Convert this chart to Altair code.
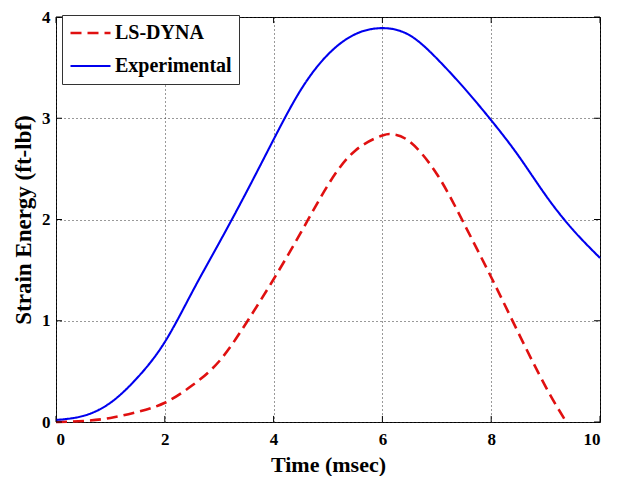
import altair as alt
import pandas as pd

# Experimental (blue, solid)
t_exp = [0, 0.5, 1, 1.5, 2, 2.5, 3, 3.5, 4, 4.5, 5, 5.5, 6, 6.5, 7, 7.5, 8, 8.5, 9, 9.5, 10]
e_exp = [0.02, 0.06, 0.19, 0.44, 0.79, 1.28, 1.77, 2.27, 2.79, 3.28, 3.63, 3.83, 3.89, 3.82, 3.59, 3.30, 2.98, 2.63, 2.24, 1.90, 1.62]

# LS-DYNA (red, dashed)
t_ls = [0, 0.5, 1, 1.5, 2, 2.5, 3, 3.5, 4, 4.5, 5, 5.5, 6, 6.2, 6.5, 7, 7.5, 8, 8.5, 9, 9.38]
e_ls = [0.0, 0.01, 0.04, 0.10, 0.19, 0.36, 0.60, 0.98, 1.41, 1.87, 2.34, 2.68, 2.83, 2.84, 2.77, 2.45, 1.96, 1.43, 0.88, 0.35, 0.0]

series = ["LS-DYNA", "Experimental"]
colors = ["#e01010", "#0000ee"]
x_ticks = [0, 2, 4, 6, 8, 10]
y_ticks = [0, 1, 2, 3, 4]

df = pd.concat([
    pd.DataFrame({"t": t_ls, "e": e_ls, "s": "LS-DYNA", "o": range(len(t_ls))}),
    pd.DataFrame({"t": t_exp, "e": e_exp, "s": "Experimental", "o": range(len(t_exp))}),
])

XMAX, YMAX = 10, 4
xlen, ylen = 0.11, 0.06
rows = []
for v in x_ticks:
    rows.append({"x": v, "x2": v, "y": 0, "y2": ylen})
    rows.append({"x": v, "x2": v, "y": YMAX, "y2": YMAX - ylen})
for v in y_ticks:
    rows.append({"x": 0, "x2": xlen, "y": v, "y2": v})
    rows.append({"x": XMAX, "x2": XMAX - xlen, "y": v, "y2": v})
ticks = pd.DataFrame(rows)

xs = alt.Scale(domain=[0, 10], nice=False)
ys = alt.Scale(domain=[0, 4], nice=False)

lines = alt.Chart(df).mark_line(interpolate="natural").encode(
    x=alt.X("t:Q", scale=xs, title="Time (msec)",
            axis=alt.Axis(values=x_ticks, format="d", grid=True, ticks=False, domain=False,
                          labelPadding=9, titlePadding=7, titleFontSize=22)),
    y=alt.Y("e:Q", scale=ys, title="Strain Energy (ft-lbf)",
            axis=alt.Axis(values=y_ticks, format="d", grid=True, ticks=False, domain=False,
                          labelPadding=6, titlePadding=6, titleFontSize=23)),
    color=alt.Color("s:N", scale=alt.Scale(domain=series, range=colors),
                    legend=alt.Legend(title=None, orient="none", legendX=6, legendY=-2,
                                      symbolType="stroke", symbolSize=1600, clipHeight=22,
                                      symbolStrokeWidth=2.2, labelFontSize=20,
                                      labelFont="Liberation Serif", labelFontWeight="bold",
                                      labelColor="black", labelOffset=3,
                                      strokeColor="#333", fillColor="white",
                                      padding=7, rowPadding=11)),
    strokeDash=alt.StrokeDash("s:N", scale=alt.Scale(domain=series, range=[[11, 6], [1, 0]]),
                              legend=alt.Legend(title=None, orient="none", legendX=6, legendY=-2)),
    strokeWidth=alt.StrokeWidth("s:N", scale=alt.Scale(domain=series, range=[2.6, 2.1]), legend=None),
    order="o:Q",
)

tick_layer = alt.Chart(ticks).mark_rule(color="black", strokeWidth=1).encode(
    x=alt.X("x:Q", scale=xs), x2="x2:Q",
    y=alt.Y("y:Q", scale=ys), y2="y2:Q",
)

chart = alt.layer(lines, tick_layer).properties(
    width=544, height=405,
    padding={"left": 48, "top": 9, "right": 10, "bottom": 54},
    autosize="none",
).configure_view(
    stroke="black", strokeWidth=1
).configure_axis(
    labelFont="Liberation Serif", labelFontWeight="bold", labelFontSize=17, labelColor="black",
    titleFont="Liberation Serif", titleFontWeight="bold", titleFontSize=21, titleColor="black",
    gridColor="#333", gridDash=[1, 3], gridWidth=1, gridOpacity=1,
)

chart.save("out.html", embed_options={"renderer": "svg", "actions": False})
